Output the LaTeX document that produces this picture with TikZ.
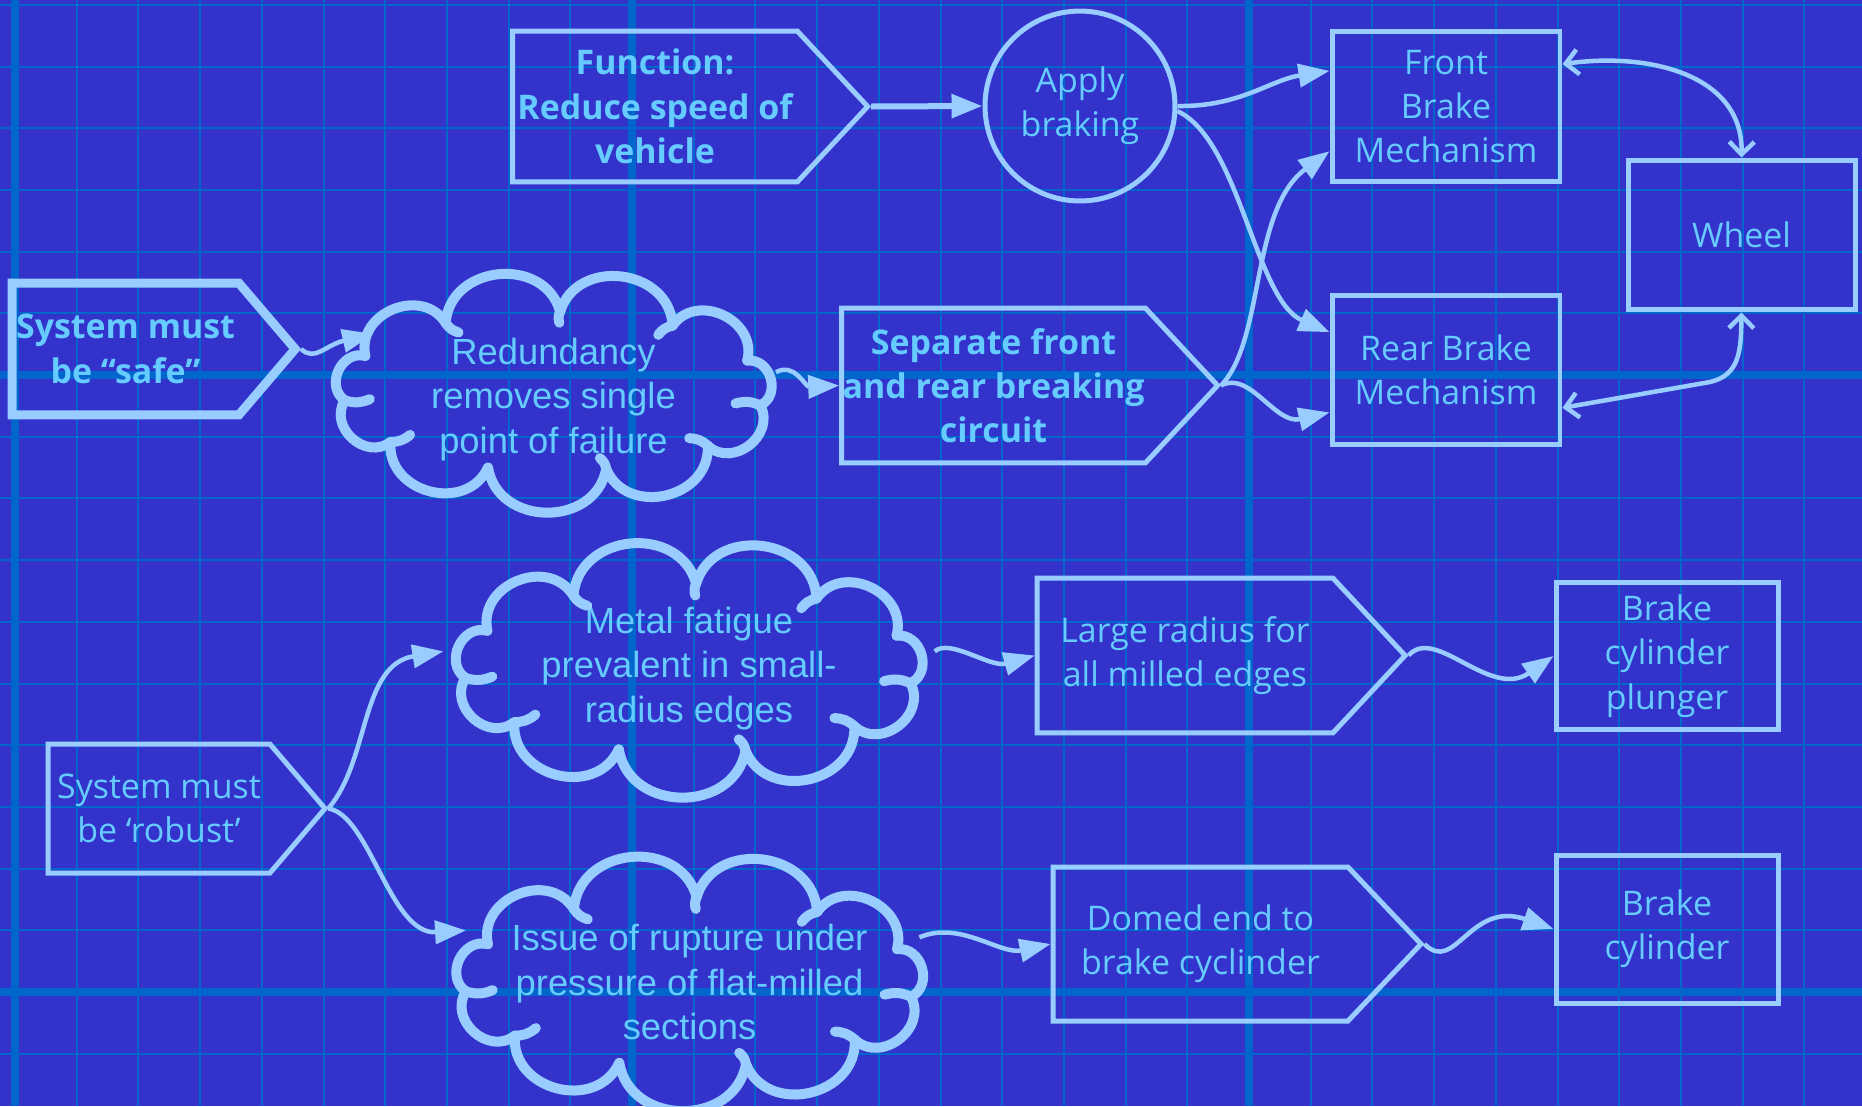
\documentclass[tikz,border=0pt]{standalone}
\usepackage{fontspec}
\usetikzlibrary{arrows.meta,shapes.symbols,shapes.geometric,calc}
\newfontfamily\handfont{Open Sans}
\newfontfamily\plainfont{Liberation Sans}
\definecolor{paper}{HTML}{3333CC}
\definecolor{gridblue}{HTML}{0066CC}
\definecolor{chalk}{HTML}{99CCFF}
\definecolor{lettering}{HTML}{66CCFF}

\begin{document}
\begin{tikzpicture}[
  x=.02cm, y=-.02cm,
  hand/.style={font=\handfont\fontsize{19.3}{25.2}\selectfont, text=lettering},
  heavy/.style={font=\handfont\bfseries\fontsize{19.3}{25.2}\selectfont},
  outlined/.style={draw=chalk, line width=.1cm, align=center, inner sep=0pt},
  goal/.style={signal, signal to=east, signal pointer angle=94, outlined, hand},
  part/.style={rectangle, outlined, hand},
  action/.style={circle, outlined, hand, minimum size=3.8cm},
  idea/.style={ellipse, inner xsep=-1.6cm, inner ysep=-.9cm, align=center,
    text=lettering, font=\plainfont\fontsize{20.7}{25.5}\selectfont},
  puff/.style={draw=chalk, line width=.2cm, line cap=round},
  flow/.style={draw=chalk, line width=.09cm, -{Triangle[length=.62cm,width=.46cm]}},
  link/.style={draw=chalk, line width=.09cm,
    {Straight Barb[length=.25cm,width=.5cm]}-{Straight Barb[length=.25cm,width=.5cm]}},
  minor/.style={draw=gridblue, line width=.04cm},
  major/.style={draw=gridblue, line width=.16cm}
]
% sheet and drafting grid, 61.7px squares
\fill[paper] (0,0) rectangle (1862,1106);
\useasboundingbox (0,0) rectangle (1862,1106);
\foreach \i in {0,...,29} \draw[minor] ({15+61.7*\i},0) -- ++(0,1106);
\foreach \j in {-6,...,12} \draw[minor] (0,{375+61.7*\j}) -- ++(1862,0);
\foreach \x in {15,632,1249} \draw[major] (\x,0) -- ++(0,1106);
\foreach \y in {375,992} \draw[major] (0,\y) -- ++(1862,0);

% function chain (signal nodes sit at the centre of their body)
\node[goal, heavy, minimum width=7.1cm, minimum height=3.02cm] (func) at (655,106.5)
  {Function:\\Reduce speed of\\vehicle};
\node[action] (apply) at (1080,106) {Apply\\braking};
\node[part, minimum width=4.56cm, minimum height=3.02cm] (front) at (1446,106.5)
  {Front\\Brake\\Mechanism};
\node[part, minimum width=4.56cm, minimum height=3cm] (rear) at (1446,370)
  {Rear Brake\\Mechanism};
\node[part, minimum width=4.54cm, minimum height=3cm] (wheel) at (1741.5,235) {Wheel};

% safety requirement
\node[goal, heavy, line width=.18cm, signal pointer angle=99,
  minimum width=5.66cm, minimum height=2.64cm] (safe) at (125.5,349)
  {System must\\be “safe”};
\node[idea, minimum width=9.2cm, minimum height=4.2cm] (redund) at (553.5,399.5)
  {Redundancy\\removes single\\point of failure};
\node[goal, heavy, minimum width=7.52cm, minimum height=3.1cm] (split) at (993.5,385.5)
  {Separate front\\and rear breaking\\circuit};

% robustness requirement
\node[goal, signal pointer angle=99, minimum width=5.54cm, minimum height=2.58cm]
  (robust) at (159,808.5) {System must\\be ‘robust’};
\node[idea, minimum width=9.92cm, minimum height=4.72cm] (fatigue) at (689,668.5)
  {Metal fatigue\\prevalent in small-\\radius edges};
\node[idea, minimum width=9.92cm, minimum height=4.72cm] (rupture) at (689.5,982)
  {Issue of rupture under\\pressure of flat-milled\\sections};
\node[goal, minimum width=7.36cm, minimum height=3.1cm] (radius) at (1185,655.5)
  {Large radius for\\all milled edges};
\node[goal, signal pointer angle=93, minimum width=7.36cm, minimum height=3.08cm]
  (domed) at (1200.5,944) {Domed end to\\brake cyclinder};
\node[part, minimum width=4.44cm, minimum height=2.96cm] (plunger) at (1667,656)
  {Brake\\cylinder\\plunger};
\node[part, minimum width=4.44cm, minimum height=2.96cm] (cylinder) at (1667,929)
  {Brake\\cylinder};

% cloud outlines: 11 puffs round each idea, some joints with a tick turning inwards
\foreach \c/\a/\b/\dy in {redund/210/80/-8, fatigue/225/85/0, rupture/225/85/0} {
  \coordinate (mid) at ($(\c)+(0,\dy)$);
  \foreach \k in {0,...,10} {
    \pgfmathsetmacro\ta{10+360/11*\k}
    \pgfmathsetmacro\tb{10+360/11*(\k+1)}
    \draw[puff] ($(mid)+({\a*cos(\ta)},{\b*sin(\ta)})$)
      to[bend left=80, looseness=1.3] ($(mid)+({\a*cos(\tb)},{\b*sin(\tb)})$);
  }
  \foreach \k in {0,1,2,4,5,7,8,9} {
    \pgfmathsetmacro\ta{10+360/11*\k}
    \draw[puff] ($(mid)+({\a*cos(\ta)},{\b*sin(\ta)})$)
      to[bend right=20] ($(mid)+({.88*\a*cos(\ta)},{.86*\b*sin(\ta)})$);
  }
}

% connectors
\draw[flow, line width=.12cm] (func.east) -- (apply.west);
\draw[flow] (apply.east) .. controls (1240,107) and (1270,80) .. (front.163);
\draw[flow] (apply.-3) .. controls (1240,140) and (1255,300) .. (rear.162);
\draw[flow] (split.east) .. controls (1265,340) and (1250,210) .. (front.201);
\draw[flow] (split.east) .. controls (1250,370) and (1275,425) .. (rear.200);
\draw[link] (front.20) .. controls (1650,52) and (1743,75) .. (wheel.north);
\draw[link] (rear.-18) -- (1710,382) .. controls (1740,375) and (1741,350) .. (wheel.south);

\draw[flow] (safe.east) .. controls (315,362) and (325,345) .. (redund.160);
\draw[flow] (redund.7) .. controls (795,362) and (805,387) .. (split.west);

\draw[flow] (robust.east) .. controls (370,760) and (360,665) .. (fatigue.176);
\draw[flow] (robust.east) .. controls (370,815) and (390,935) .. (rupture.167);
\draw[flow] (fatigue.4) .. controls (950,638) and (990,668) .. (radius.west);
\draw[flow] (radius.east) .. controls (1435,625) and (1490,700) .. (plunger.west);
\draw[flow] (rupture.11) .. controls (960,920) and (1000,955) .. (domed.west);
\draw[flow] (domed.east) .. controls (1455,975) and (1470,900) .. (cylinder.west);
\end{tikzpicture}
\end{document}
